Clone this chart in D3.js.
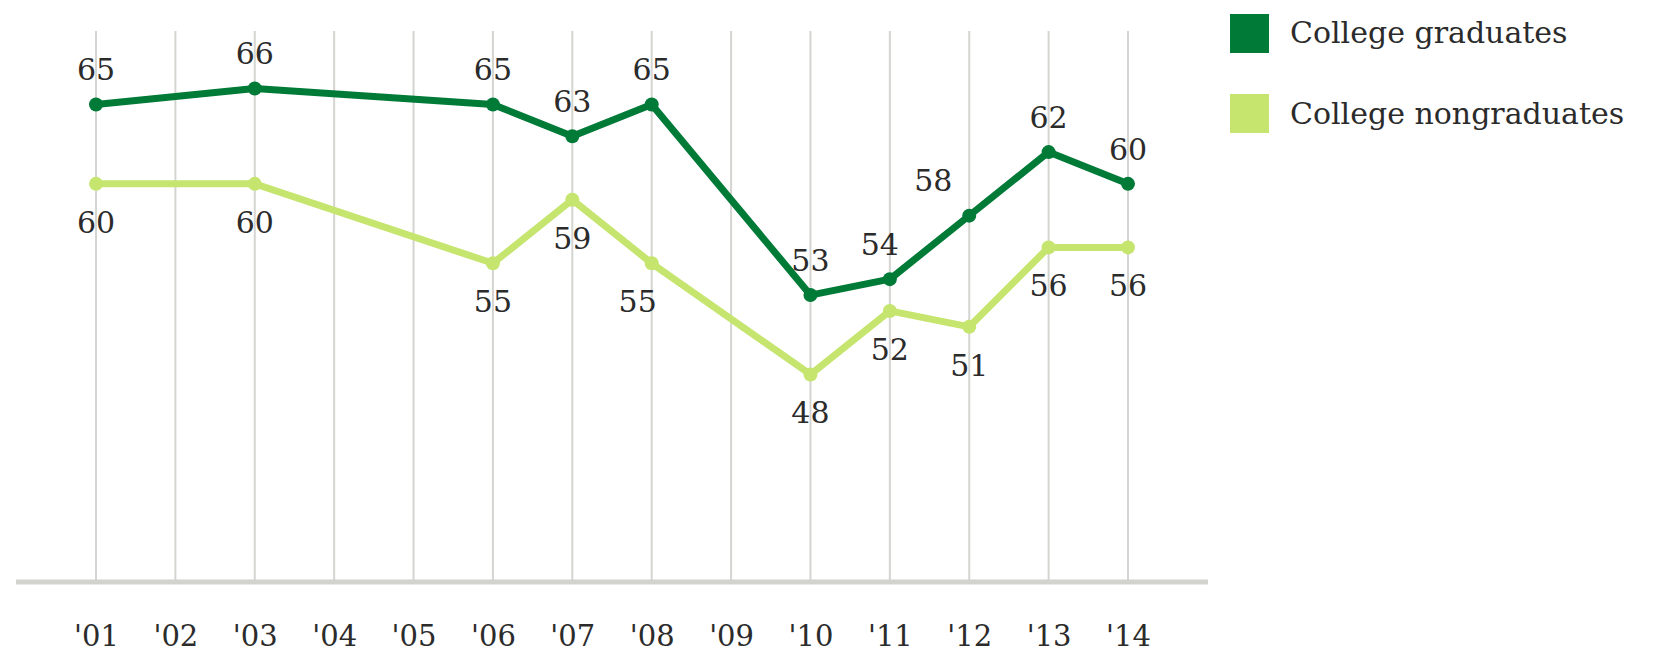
<!DOCTYPE html>
<html>
<head>
<meta charset="utf-8">
<script src="https://cdn.jsdelivr.net/npm/d3@7"></script>
<style>
  body { margin: 0; background: #fff; }
  svg text { font-family: "DejaVu Serif", "Liberation Serif", serif; fill: #2b2b2b; }
</style>
</head>
<body>
<div id="chart"></div>
<script>
// data
const years = [2001, 2002, 2003, 2004, 2005, 2006, 2007, 2008, 2009, 2010, 2011, 2012, 2013, 2014];
const tickLabels = ["'01", "'02", "'03", "'04", "'05", "'06", "'07", "'08", "'09", "'10", "'11", "'12", "'13", "'14"];
const surveyYears = [2001, 2003, 2006, 2007, 2008, 2010, 2011, 2012, 2013, 2014];
const graduates = [65, 66, 65, 63, 65, 53, 54, 58, 62, 60];
const nongraduates = [60, 60, 55, 59, 55, 48, 52, 51, 56, 56];
const seriesNames = ["College graduates", "College nongraduates"];

const frame_width = 1662;
const frame_height = 657;
const colors = ["#007a37", "#c5e56e"];

// small horizontal nudges for labels that sit off their gridline
const labelNudge = {
  0: {2011: -10, 2012: -36},
  1: {2008: -14}
};

const svg = d3.select("#chart")
  .append("svg")
    .attr("width", frame_width)
    .attr("height", frame_height);

const x_scale = d3.scaleLinear()
  .domain([2001, 2014])
  .range([96, 1128]);

const y_scale = d3.scaleLinear()
  .domain([35, 70])
  .range([581, 25]);

// vertical gridlines
svg.append("g")
  .selectAll("line")
  .data(years)
  .join("line")
    .attr("x1", d => x_scale(d))
    .attr("x2", d => x_scale(d))
    .attr("y1", 31)
    .attr("y2", y_scale(35))
    .attr("stroke", "#d4d4d1")
    .attr("stroke-width", 2);

// baseline
svg.append("line")
  .attr("x1", 16)
  .attr("x2", 1208)
  .attr("y1", y_scale(35) + 1)
  .attr("y2", y_scale(35) + 1)
  .attr("stroke", "#d2d2ce")
  .attr("stroke-width", 5);

// x axis labels
const xAxis = svg.append("g")
  .attr("transform", "translate(0," + (y_scale(35)) + ")")
  .call(d3.axisBottom(x_scale)
    .tickValues(years)
    .tickFormat((d, i) => tickLabels[i])
    .tickSize(0)
    .tickPadding(44));
xAxis.select(".domain").remove();
xAxis.selectAll("text")
  .attr("font-size", "29px")
  .attr("font-family", "DejaVu Serif, serif")
  .attr("fill", "#2b2b2b");

const line = d3.line()
  .x(d => x_scale(d[0]))
  .y(d => y_scale(d[1]));

[graduates, nongraduates].forEach((vals, s) => {
  const pts = surveyYears.map((yr, i) => [yr, vals[i]]);

  svg.append("path")
    .datum(pts)
    .attr("d", line)
    .attr("fill", "none")
    .attr("stroke", colors[s])
    .attr("stroke-width", 7)
    .attr("stroke-linejoin", "round");

  svg.append("g")
    .selectAll("circle")
    .data(pts)
    .join("circle")
      .attr("cx", d => x_scale(d[0]))
      .attr("cy", d => y_scale(d[1]))
      .attr("r", 7)
      .attr("fill", colors[s]);

  svg.append("g")
    .selectAll("text")
    .data(pts)
    .join("text")
      .attr("x", d => x_scale(d[0]) + ((labelNudge[s] || {})[d[0]] || 0))
      .attr("y", d => y_scale(d[1]) + (s === 0 ? -35 : 38))
      .attr("dy", "0.36em")
      .attr("text-anchor", "middle")
      .attr("font-size", "30px")
      .text(d => d[1]);
});

// legend
const legend = svg.append("g");
seriesNames.forEach((name, i) => {
  legend.append("rect")
    .attr("x", 1230)
    .attr("y", 14 + i * 80)
    .attr("width", 39)
    .attr("height", 39)
    .attr("fill", colors[i]);
  legend.append("text")
    .attr("x", 1290)
    .attr("y", 32 + i * 81)
    .attr("dy", "0.36em")
    .attr("font-size", "30px")
    .text(name);
});
</script>
</body>
</html>
